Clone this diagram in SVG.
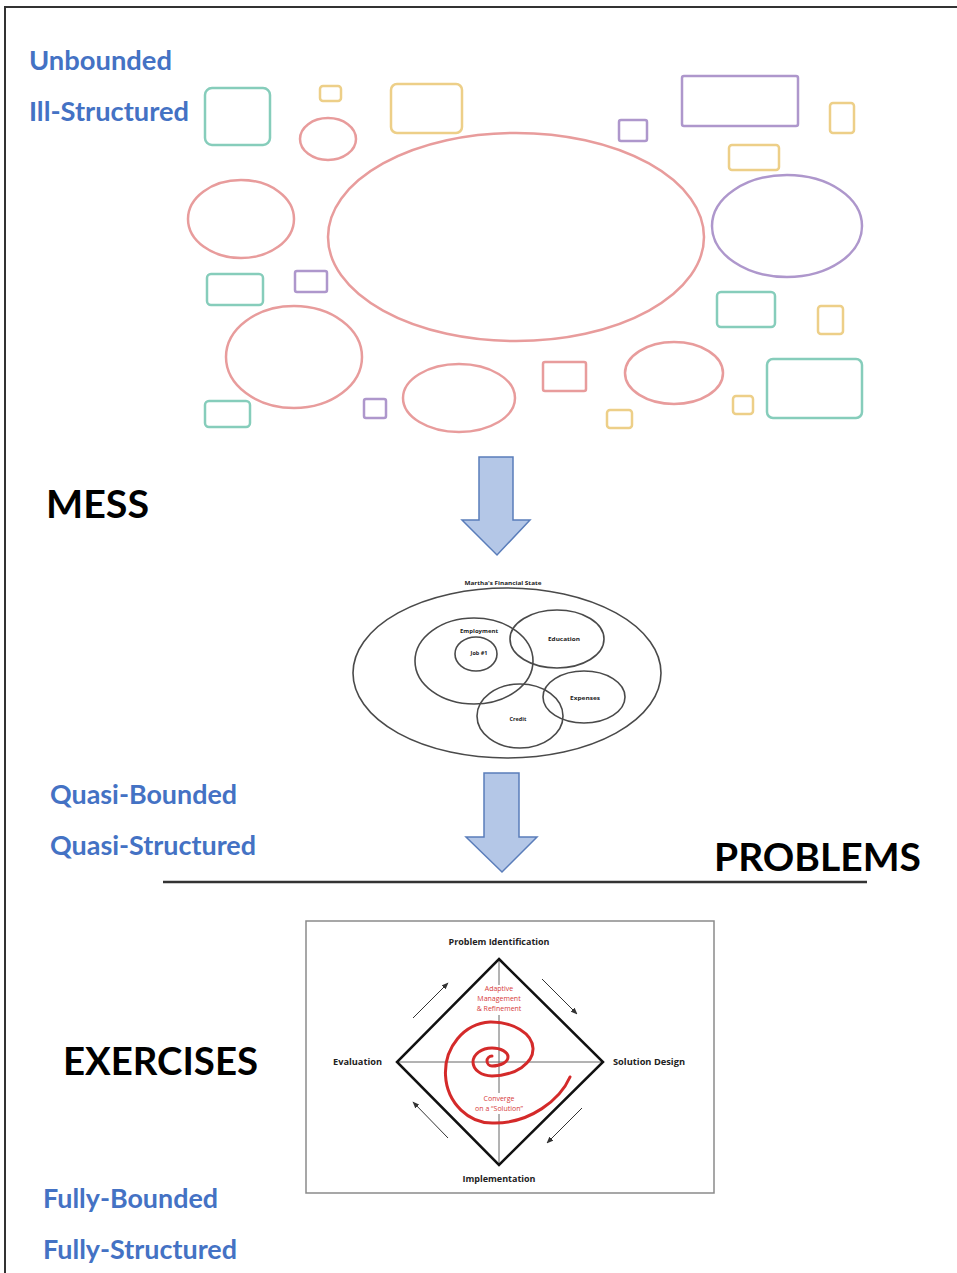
<svg xmlns="http://www.w3.org/2000/svg" width="957" height="1273" viewBox="0 0 957 1273">
<style>
.r{fill:none;stroke:#E89C9C;stroke-width:2.5}
.t{fill:none;stroke:#86CDBB;stroke-width:2.5}
.y{fill:none;stroke:#EDCF88;stroke-width:2.5}
.p{fill:none;stroke:#AE97CC;stroke-width:2.5}
.blue{font-family:Lato,"Open Sans",sans-serif;font-weight:bold;font-size:26px;fill:#4472C4}
.big{font-family:Lato,"Open Sans",sans-serif;font-weight:bold;font-size:38px;fill:#000}
.v{fill:none;stroke:#4a4a4a;stroke-width:1.6}
.vt{font-family:"Open Sans",sans-serif;font-weight:bold;font-size:5.5px;fill:#222;text-anchor:middle}
.ct{font-family:"Open Sans",sans-serif;font-weight:bold;font-size:8px;fill:#222}
.rt{font-family:"Open Sans",sans-serif;font-size:7px;fill:#D63A3A;text-anchor:middle}
.ar{fill:#B4C7E7;stroke:#5A7DBA;stroke-width:1.5;stroke-linejoin:miter}
.sa{stroke:#333;stroke-width:1;fill:none;marker-end:url(#ah)}
</style>
<defs>
<marker id="ah" viewBox="0 0 10 10" refX="9" refY="5" markerWidth="7" markerHeight="7" orient="auto" markerUnits="userSpaceOnUse">
<path d="M0,1 L10,5 L0,9 z" fill="#333"/>
</marker>
</defs>
<rect width="957" height="1273" fill="#fff"/>
<g id="frame"><path d="M5,1273 V7 H957" fill="none" stroke="#333" stroke-width="2"/></g>

<g id="mess-shapes">
<rect class="t" x="205" y="88" width="65" height="57" rx="7"/>
<rect class="y" x="320" y="86" width="21" height="15" rx="3"/>
<rect class="y" x="391" y="84" width="71" height="49" rx="6"/>
<ellipse class="r" cx="328" cy="139" rx="28" ry="21"/>
<ellipse class="r" cx="516" cy="237" rx="188" ry="104"/>
<ellipse class="r" cx="241" cy="219" rx="53" ry="39"/>
<rect class="t" x="207" y="274" width="56" height="31" rx="4"/>
<rect class="p" x="295" y="271" width="32" height="21" rx="2"/>
<ellipse class="r" cx="294" cy="357" rx="68" ry="51"/>
<rect class="t" x="205" y="401" width="45" height="26" rx="4"/>
<rect class="p" x="364" y="399" width="22" height="19" rx="2"/>
<ellipse class="r" cx="459" cy="398" rx="56" ry="34"/>
<rect class="r" x="543" y="362" width="43" height="29" rx="2"/>
<rect class="y" x="607" y="410" width="25" height="18" rx="3"/>
<ellipse class="r" cx="674" cy="373" rx="49" ry="31"/>
<rect class="y" x="733" y="396" width="20" height="18" rx="3"/>
<rect class="t" x="767" y="359" width="95" height="59" rx="6"/>
<rect class="t" x="717" y="292" width="58" height="35" rx="4"/>
<rect class="y" x="818" y="306" width="25" height="28" rx="3"/>
<ellipse class="p" cx="787" cy="226" rx="75" ry="51"/>
<rect class="y" x="729" y="145" width="50" height="25" rx="3"/>
<rect class="p" x="682" y="76" width="116" height="50" rx="2"/>
<rect class="y" x="830" y="103" width="24" height="30" rx="3"/>
<rect class="p" x="619" y="120" width="28" height="21" rx="2"/>
</g>

<g id="labels">
<text class="blue" x="29" y="70" textLength="143" lengthAdjust="spacingAndGlyphs">Unbounded</text>
<text class="blue" x="29" y="121" textLength="160" lengthAdjust="spacingAndGlyphs">Ill-Structured</text>
<text class="big" x="46" y="518" textLength="103" lengthAdjust="spacingAndGlyphs">MESS</text>
<text class="blue" x="50" y="804" textLength="187" lengthAdjust="spacingAndGlyphs">Quasi-Bounded</text>
<text class="blue" x="50" y="855" textLength="206" lengthAdjust="spacingAndGlyphs">Quasi-Structured</text>
<text class="big" x="714" y="871" textLength="207" lengthAdjust="spacingAndGlyphs">PROBLEMS</text>
<text class="big" x="63" y="1075" textLength="195" lengthAdjust="spacingAndGlyphs">EXERCISES</text>
<text class="blue" x="43" y="1208" textLength="175" lengthAdjust="spacingAndGlyphs">Fully-Bounded</text>
<text class="blue" x="43" y="1259" textLength="194" lengthAdjust="spacingAndGlyphs">Fully-Structured</text>
</g>

<g id="arrow1"><path class="ar" d="M479,457 H513 V520 H530 L497,555 L462,520 H479 Z"/></g>
<g id="arrow2"><path class="ar" d="M484,773 H519 V837 H537 L502,872 L466,837 H484 Z"/></g>

<g id="divider"><line x1="163" y1="882" x2="867" y2="882" stroke="#333" stroke-width="2.5"/></g>

<g id="venn">
<text class="vt" x="503" y="585" textLength="77" lengthAdjust="spacingAndGlyphs">Martha's Financial State</text>
<ellipse class="v" cx="507" cy="673" rx="154" ry="85"/>
<ellipse class="v" cx="474" cy="661" rx="59" ry="43"/>
<ellipse class="v" cx="476" cy="654" rx="21" ry="17"/>
<ellipse class="v" cx="557" cy="639" rx="47" ry="29"/>
<ellipse class="v" cx="584" cy="697" rx="41" ry="26"/>
<ellipse class="v" cx="520" cy="716" rx="43" ry="32"/>
<text class="vt" x="479" y="633" textLength="38" lengthAdjust="spacingAndGlyphs">Employment</text>
<text class="vt" x="479" y="655">Job #1</text>
<text class="vt" x="564" y="641" textLength="32" lengthAdjust="spacingAndGlyphs">Education</text>
<text class="vt" x="585" y="700" textLength="30" lengthAdjust="spacingAndGlyphs">Expenses</text>
<text class="vt" x="518" y="721">Credit</text>
</g>

<g id="cycle">
<rect x="306" y="921" width="408" height="272" fill="none" stroke="#8a8a8a" stroke-width="1.5"/>
<line x1="397" y1="1062" x2="603" y2="1062" stroke="#666" stroke-width="1"/>
<line x1="499" y1="959" x2="499" y2="985" stroke="#666" stroke-width="1"/>
<line x1="499" y1="1015" x2="499" y2="1093" stroke="#666" stroke-width="1"/>
<line x1="499" y1="1114" x2="499" y2="1165" stroke="#666" stroke-width="1"/>
<path d="M499,959 L603,1062 L499,1165 L397,1062 Z" fill="none" stroke="#111" stroke-width="2.5" stroke-linejoin="miter"/>
<path d="M492,1056 A5,5 0 0 0 492,1066 A16,9 0 0 0 492,1048 A19,14 0 0 0 492,1076 A42,27 0 0 0 490,1022 A47,50.5 0 0 0 495,1123 C530,1123 560,1100 570,1077" fill="none" stroke="#D42A2A" stroke-width="3" stroke-linecap="round"/>
<text class="ct" x="499" y="945" text-anchor="middle" textLength="101" lengthAdjust="spacingAndGlyphs">Problem Identification</text>
<text class="ct" x="613" y="1065" textLength="72" lengthAdjust="spacingAndGlyphs">Solution Design</text>
<text class="ct" x="333" y="1065" textLength="49" lengthAdjust="spacingAndGlyphs">Evaluation</text>
<text class="ct" x="499" y="1182" text-anchor="middle" textLength="73" lengthAdjust="spacingAndGlyphs">Implementation</text>
<text class="rt" x="499" y="991">Adaptive</text>
<text class="rt" x="499" y="1001">Management</text>
<text class="rt" x="499" y="1011">&amp; Refinement</text>
<text class="rt" x="499" y="1101">Converge</text>
<text class="rt" x="499" y="1111">on a “Solution”</text>
<line class="sa" x1="413" y1="1018" x2="448" y2="983"/>
<line class="sa" x1="542" y1="979" x2="577" y2="1014"/>
<line class="sa" x1="582" y1="1108" x2="547" y2="1143"/>
<line class="sa" x1="448" y1="1138" x2="413" y2="1102"/>
</g>
</svg>
